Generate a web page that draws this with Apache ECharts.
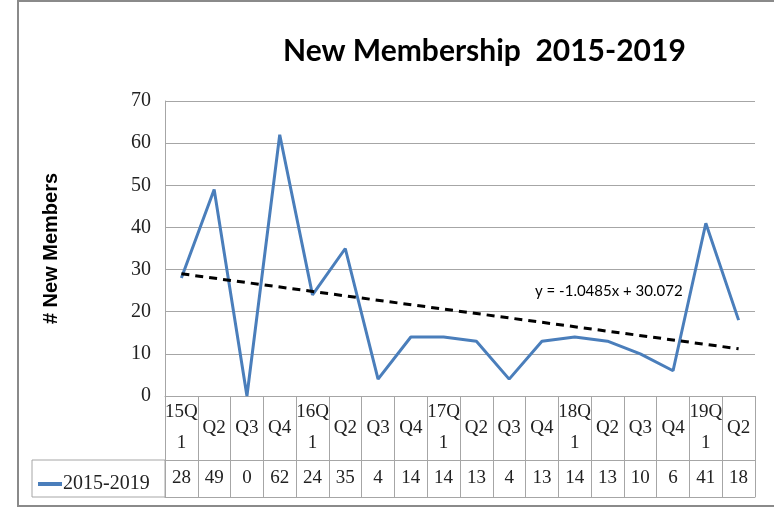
<!DOCTYPE html>
<html>
<head>
<meta charset="utf-8">
<script src="https://cdn.jsdelivr.net/npm/echarts@6/dist/echarts.min.js"></script>
<style>
    html, body { margin: 0; padding: 0; background: #fff; }
    #chart { width: 774px; height: 508px; }
</style>
</head>
<body>
<div id="chart"></div>
<script>
    // quarters, 2015 Q1 .. 2019 Q2
    const quarters = ["15Q\n1", "Q2", "Q3", "Q4", "16Q\n1", "Q2", "Q3", "Q4", "17Q\n1", "Q2",
                      "Q3", "Q4", "18Q\n1", "Q2", "Q3", "Q4", "19Q\n1", "Q2"];
    const members = [28, 49, 0, 62, 24, 35, 4, 14, 14, 13, 4, 13, 14, 13, 10, 6, 41, 18];
    // linear trend ends
    const trendEnds = [[0, 29.0], [17, 11.2]];
    const trendText = "y = -1.0485x + 30.072";
    const yTicks = { min: 0, max: 70, interval: 10 };

    const tableFont = "'Liberation Serif', serif";
    const gridColor = "#a6a6a6";

    const chart = echarts.init(document.getElementById("chart"));

    const option = {
        animation: false,
        title: {
            text: "New Membership  2015-2019",
            left: 283,
            top: 36,
            padding: 0,
            textStyle: { fontFamily: "Lato", fontWeight: "bold", fontSize: 30, color: "#000" }
        },
        legend: {
            data: ["2015-2019"],
            left: 33,
            top: 469,
            icon: "rect",
            itemWidth: 24,
            itemHeight: 4,
            itemGap: 2,
            textStyle: { fontFamily: tableFont, fontSize: 20, color: "#222", padding: [0, 0, 0, -4] }
        },
        grid: { left: 165, right: 19, top: 101, bottom: 112 },
        xAxis: [
            {
                type: "category",
                data: quarters,
                boundaryGap: true,
                axisLine: { lineStyle: { color: gridColor, width: 1 } },
                axisTick: { show: true, length: 64, lineStyle: { color: gridColor } },
                axisLabel: {
                    interval: 0,
                    margin: 32,
                    verticalAlign: "middle",
                    lineHeight: 31,
                    fontFamily: tableFont,
                    fontSize: 19,
                    color: "#222"
                }
            },
            {
                type: "category",
                data: quarters,
                position: "bottom",
                offset: 64,
                axisLine: { lineStyle: { color: gridColor, width: 1 } },
                axisTick: { show: true, length: 37, lineStyle: { color: gridColor } },
                axisLabel: {
                    interval: 0,
                    margin: 18,
                    verticalAlign: "middle",
                    fontFamily: tableFont,
                    fontSize: 19,
                    color: "#222",
                    formatter: (v, i) => String(members[i])
                }
            },
            {
                type: "category",
                data: quarters,
                position: "bottom",
                offset: 101,
                axisLine: { lineStyle: { color: gridColor, width: 1 } },
                axisTick: { show: false },
                axisLabel: { show: false }
            }
        ],
        yAxis: {
            type: "value",
            min: yTicks.min,
            max: yTicks.max,
            interval: yTicks.interval,
            name: "# New Members",
            nameLocation: "middle",
            nameGap: 104,
            nameTextStyle: { fontFamily: "'Liberation Sans', Arial, sans-serif", fontWeight: "bold", fontSize: 20, color: "#000" },
            axisLine: { show: true, lineStyle: { color: gridColor } },
            axisTick: { show: false },
            axisLabel: { margin: 14, fontFamily: tableFont, fontSize: 20, color: "#222" },
            splitLine: { lineStyle: { color: gridColor, width: 1 } }
        },
        series: [
            {
                name: "2015-2019",
                type: "line",
                data: members,
                showSymbol: false,
                color: "#4a7ebb",
                lineStyle: { width: 3, color: "#4a7ebb" }
            },
            {
                name: "trend",
                type: "line",
                data: trendEnds,
                showSymbol: false,
                color: "#000",
                lineStyle: { width: 3, color: "#000", type: [8, 6] },
                z: 3
            }
        ],
        graphic: [
            {
                type: "rect",
                shape: { x: 18, y: 1, width: 800, height: 505 },
                style: { fill: null, stroke: "#8a8a8a", lineWidth: 2 },
                silent: true
            },
            {
                type: "rect",
                shape: { x: 32, y: 460, width: 133, height: 37 },
                style: { fill: null, stroke: gridColor, lineWidth: 1 },
                silent: true
            },
            {
                type: "text",
                left: 535,
                top: 284,
                style: { text: trendText, font: "15px Lato", fill: "#000" }
            }
        ]
    };

    chart.setOption(option);
</script>
</body>
</html>
